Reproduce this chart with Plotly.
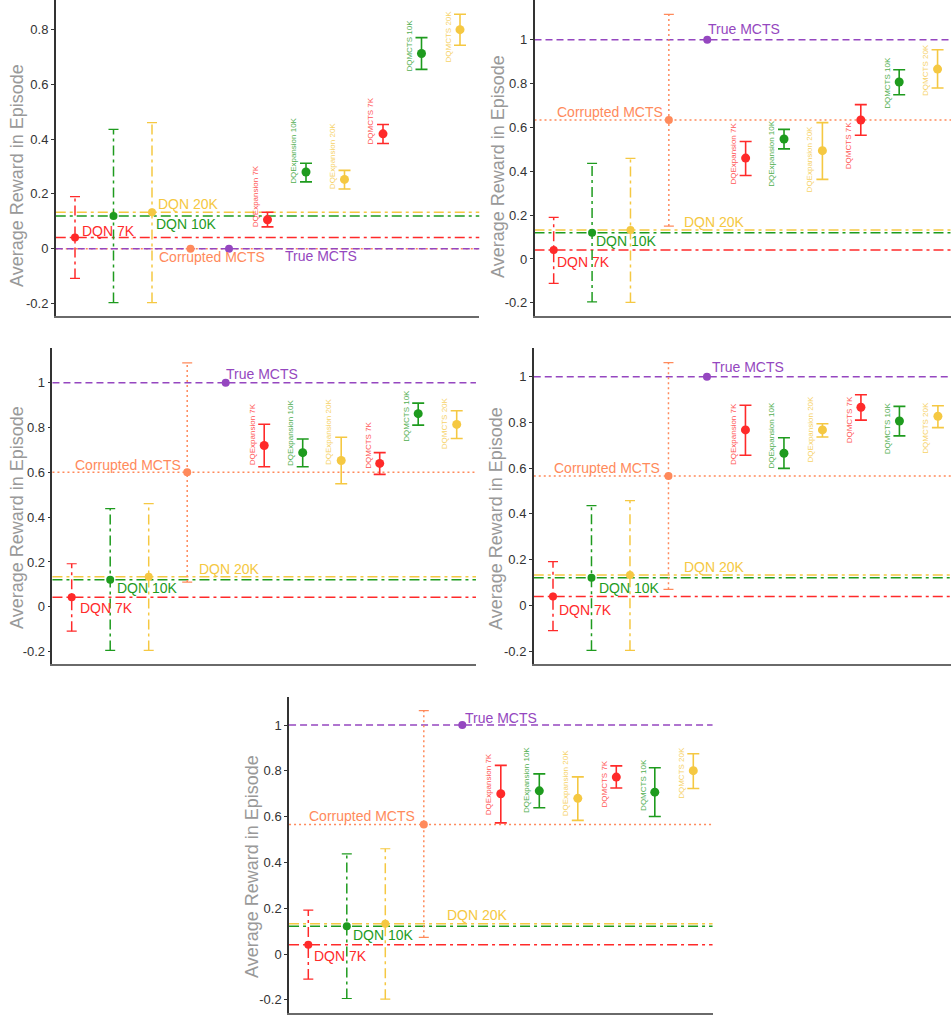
import plotly.graph_objects as go

# ---------------- data ----------------
methods = ["DQN 7K", "DQN 10K", "DQN 20K", "Corrupted MCTS", "True MCTS",
           "DQExpansion 7K", "DQExpansion 10K", "DQExpansion 20K",
           "DQMCTS 7K", "DQMCTS 10K", "DQMCTS 20K"]

mean_p1 = [0.041, 0.120, 0.133, 0.000, 0.000, 0.106, 0.280, 0.253, 0.419, 0.712, 0.799]
lo_p1 = [-0.108, -0.196, -0.196, None, None, 0.080, 0.244, 0.218, 0.384, 0.654, 0.742]
hi_p1 = [0.190, 0.435, 0.460, None, None, 0.133, 0.312, 0.286, 0.453, 0.770, 0.855]

mean_p2 = [0.041, 0.120, 0.132, 0.634, 1.000, 0.460, 0.547, 0.494, 0.634, 0.807, 0.866]
lo_p2 = [-0.111, -0.196, -0.198, 0.150, None, 0.381, 0.502, 0.363, 0.564, 0.749, 0.780]
hi_p2 = [0.190, 0.436, 0.459, 1.115, None, 0.536, 0.591, 0.622, 0.704, 0.863, 0.954]

mean_p3 = [0.042, 0.120, 0.134, 0.600, 1.000, 0.720, 0.688, 0.653, 0.640, 0.862, 0.814]
lo_p3 = [-0.109, -0.195, -0.195, 0.110, None, 0.625, 0.625, 0.549, 0.591, 0.811, 0.751]
hi_p3 = [0.192, 0.438, 0.460, 1.089, None, 0.815, 0.749, 0.757, 0.688, 0.909, 0.875]

mean_p4 = [0.039, 0.120, 0.133, 0.566, 1.000, 0.767, 0.665, 0.767, 0.866, 0.806, 0.827]
lo_p4 = [-0.111, -0.197, -0.197, 0.070, None, 0.656, 0.599, 0.736, 0.810, 0.741, 0.777]
hi_p4 = [0.191, 0.436, 0.458, 1.061, None, 0.875, 0.733, 0.794, 0.921, 0.870, 0.873]

mean_p5 = [0.041, 0.121, 0.132, 0.566, 1.000, 0.700, 0.713, 0.680, 0.773, 0.707, 0.801]
lo_p5 = [-0.109, -0.194, -0.197, 0.073, None, 0.573, 0.639, 0.584, 0.725, 0.601, 0.723]
hi_p5 = [0.192, 0.438, 0.460, 1.063, None, 0.824, 0.787, 0.774, 0.822, 0.814, 0.875]

ytick_vals = [-0.2, 0, 0.2, 0.4, 0.6, 0.8, 1]
ytick_text = ["-0.2", "0", "0.2", "0.4", "0.6", "0.8", "1"]
y_title = "Average Reward in Episode"

# ---------------- styles ----------------
RED, GREEN, YELLOW, ORANGE, PURPLE = "#FF2A2A", "#1E9B1E", "#F5C842", "#FF8A5B", "#9547C0"
colors = [RED, GREEN, YELLOW, ORANGE, PURPLE, RED, GREEN, YELLOW, RED, GREEN, YELLOW]
DASHDOT = "10px,4px,3px,4px"
DOT = "2px,3px"
DASH = "7px,4px"
line_dash = [DASHDOT, DASHDOT, DASHDOT, DOT, DASH]   # for baseline methods

panels = [
    dict(mean=mean_p1, lo=lo_p1, hi=hi_p1, xdom=[55.75, 479.25], ypx=[0, 316], yr=[-0.245, 0.907],
         xr=[0.5, 11.5], title_px=(17, 176)),
    dict(mean=mean_p2, lo=lo_p2, hi=hi_p2, xdom=[534.5, 951], ypx=[0, 316], yr=[-0.26, 1.181],
         xr=[0.5, 11.35], title_px=(498, 166)),
    dict(mean=mean_p3, lo=lo_p3, hi=hi_p3, xdom=[52.45, 475.95], ypx=[348.3, 664.3], yr=[-0.257, 1.154],
         xr=[0.5, 11.5], title_px=(17, 518)),
    dict(mean=mean_p4, lo=lo_p4, hi=hi_p4, xdom=[533.75, 951], ypx=[348.3, 664.3], yr=[-0.258, 1.124],
         xr=[0.5, 11.34], title_px=(496, 519)),
    dict(mean=mean_p5, lo=lo_p5, hi=hi_p5, xdom=[289.05, 712.55], ypx=[696.7, 1012.7], yr=[-0.256, 1.124],
         xr=[0.5, 11.5], title_px=(252, 867)),
]

# label placement per panel: (x, y, xanchor) for the five baseline labels
big_labels = [
    [(1.13, 0.066, "left"), (3.05, 0.090, "left"), (3.10, 0.163, "left"), (3.12, -0.030, "left"), (6.40, -0.028, "left")],
    [(1.03, -0.015, "left"), (2.05, 0.084, "left"), (4.34, 0.170, "left"), (3.89, 0.670, "right"), (4.98, 1.047, "left")],
    [(1.16, -0.006, "left"), (2.12, 0.082, "left"), (4.25, 0.167, "left"), (3.88, 0.635, "right"), (4.96, 1.039, "left")],
    [(1.10, -0.020, "left"), (2.14, 0.074, "left"), (4.35, 0.166, "left"), (3.83, 0.599, "right"), (5.08, 1.044, "left")],
    [(1.10, -0.009, "left"), (2.10, 0.082, "left"), (4.55, 0.169, "left"), (3.83, 0.603, "right"), (5.03, 1.029, "left")],
]
# vertical label centres for the six DQExpansion / DQMCTS labels
small_label_y = [
    [0.190, 0.357, 0.336, 0.464, 0.739, 0.774],
    [0.479, 0.480, 0.456, 0.518, 0.804, 0.860],
    [0.771, 0.774, 0.781, 0.722, 0.854, 0.818],
    [0.751, 0.742, 0.771, 0.813, 0.776, 0.776],
    [0.741, 0.761, 0.745, 0.742, 0.738, 0.793],
]

W, H = 951, 1016
FONT = "Arial, Liberation Sans, sans-serif"
CAP = 0.13  # cap half-width in x units

fig = go.Figure()
shapes, annotations = [], []
layout_axes = {}

for pi, p in enumerate(panels):
    n = pi + 1
    xa = "x" if n == 1 else f"x{n}"
    ya = "y" if n == 1 else f"y{n}"
    xs = list(range(1, len(methods) + 1))

    # baseline reference lines
    for k in range(5):
        shapes.append(dict(type="line", xref=f"{xa} domain", yref=ya, x0=0, x1=1,
                           y0=p["mean"][k], y1=p["mean"][k], layer="below",
                           line=dict(color=colors[k], width=1.5, dash=line_dash[k])))

    # baseline error bars (styled lines)
    for k in range(5):
        lo, hi = p["lo"][k], p["hi"][k]
        if lo is None:
            continue
        x = xs[k]
        fig.add_trace(go.Scatter(x=[x, x], y=[lo, hi], mode="lines", xaxis=xa, yaxis=ya,
                                 line=dict(color=colors[k], width=1.5, dash=line_dash[k]),
                                 hoverinfo="skip", showlegend=False))
        fig.add_trace(go.Scatter(x=[x - CAP, x + CAP, None, x - CAP, x + CAP],
                                 y=[lo, lo, None, hi, hi], mode="lines", xaxis=xa, yaxis=ya,
                                 line=dict(color=colors[k], width=1.2),
                                 hoverinfo="skip", showlegend=False))
    # baseline points
    fig.add_trace(go.Scatter(x=xs[:5], y=p["mean"][:5], mode="markers", xaxis=xa, yaxis=ya,
                             marker=dict(color=colors[:5], size=8),
                             text=methods[:5], showlegend=False))
    # method points with solid error bars
    for k in range(5, len(methods)):
        m = p["mean"][k]
        fig.add_trace(go.Scatter(x=[xs[k]], y=[m], mode="markers", xaxis=xa, yaxis=ya,
                                 marker=dict(color=colors[k], size=9),
                                 error_y=dict(type="data", symmetric=False,
                                              array=[p["hi"][k] - m], arrayminus=[m - p["lo"][k]],
                                              color=colors[k], thickness=1.6, width=6),
                                 name=methods[k], showlegend=False))

    # labels
    for k in range(5):
        lx, lyv, anc = big_labels[pi][k]
        annotations.append(dict(x=lx, y=lyv, xref=xa, yref=ya, text=methods[k], showarrow=False,
                                xanchor=anc, yanchor="middle",
                                font=dict(family=FONT, size=14, color=colors[k])))
    for j, k in enumerate(range(5, len(methods))):
        annotations.append(dict(x=xs[k], y=small_label_y[pi][j], xref=xa, yref=ya, text=methods[k],
                                showarrow=False, textangle=-90, xanchor="center", yanchor="middle",
                                xshift=-12, opacity=0.8,
                                font=dict(family=FONT, size=8, color=colors[k])))
    # y-axis title
    tx, ty = p["title_px"]
    annotations.append(dict(x=tx / W, y=1 - ty / H, xref="paper", yref="paper", text=y_title,
                            showarrow=False, textangle=-90, xanchor="center", yanchor="middle",
                            font=dict(family=FONT, size=18, color="#999")))

    xkey = "xaxis" if n == 1 else f"xaxis{n}"
    ykey = "yaxis" if n == 1 else f"yaxis{n}"
    layout_axes[xkey] = dict(domain=[p["xdom"][0] / W, p["xdom"][1] / W], range=p["xr"], anchor=ya,
                             showticklabels=False, ticks="", showgrid=False, zeroline=False,
                             showline=True, linecolor="#6a6a6a", linewidth=2)
    layout_axes[ykey] = dict(domain=[1 - p["ypx"][1] / H, 1 - p["ypx"][0] / H], range=p["yr"], anchor=xa,
                             tickvals=ytick_vals, ticktext=ytick_text, ticks="outside", ticklen=3,
                             tickcolor="#333", tickwidth=1, showgrid=False, zeroline=False,
                             showline=True, linecolor="#333", linewidth=1.5,
                             tickfont=dict(family=FONT, size=13, color="#333"))

fig.update_layout(width=W, height=H, autosize=False, margin=dict(l=0, r=0, t=0, b=0),
                  paper_bgcolor="white", plot_bgcolor="white", showlegend=False,
                  shapes=shapes, annotations=annotations, **layout_axes)

fig.write_html("out.html", config={"displayModeBar": False},
               post_script="document.body.style.margin='0';document.body.style.overflow='hidden';")
